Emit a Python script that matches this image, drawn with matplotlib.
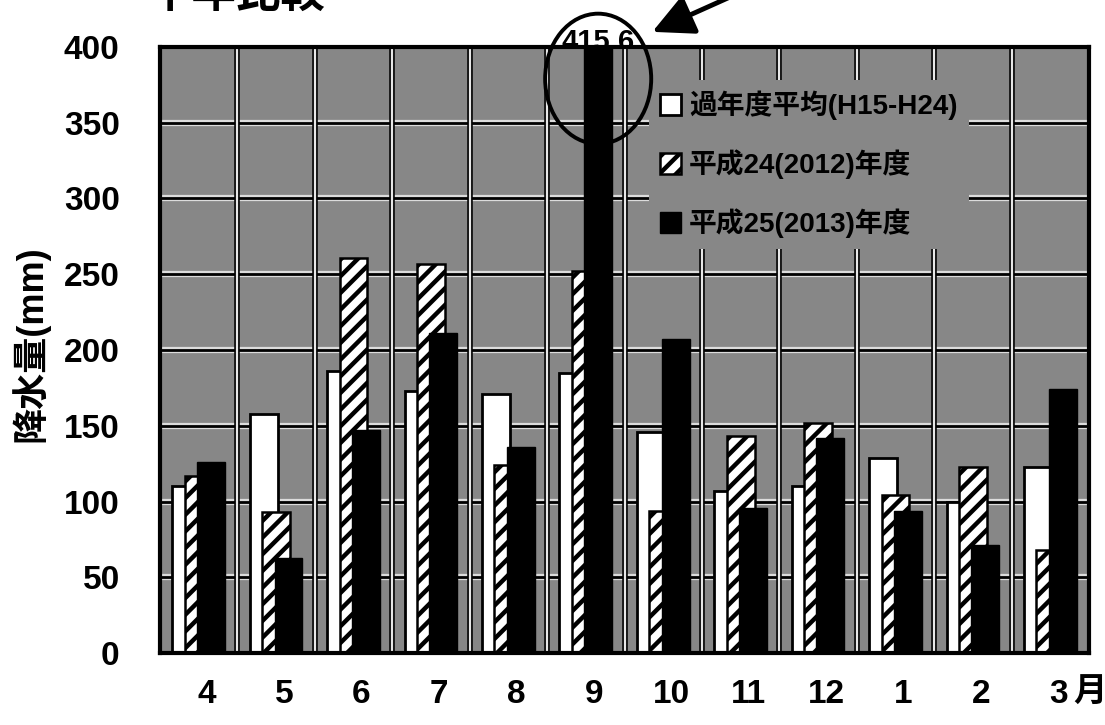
import matplotlib
matplotlib.use('Agg')
import matplotlib.pyplot as plt
import matplotlib.patheffects as pe
from matplotlib.patches import Ellipse
from matplotlib.transforms import ScaledTranslation
import numpy as np

# ---------------- data ----------------
months = ['4', '5', '6', '7', '8', '9', '10', '11', '12', '1', '2', '3']
month_unit = '月'
avg_h15_h24 = [110, 158, 186, 173, 171, 185, 146, 107, 110, 129, 100, 123]
fy2012 = [117, 93, 261, 257, 124, 252, 94, 143, 152, 104, 123, 68]
fy2013 = [126, 63, 147, 211, 136, 415.6, 207, 96, 142, 94, 71, 174]
series_labels = ['過年度平均(H15-H24)', '平成24(2012)年度', '平成25(2013)年度']
y_ticks = [0, 50, 100, 150, 200, 250, 300, 350, 400]
peak_label = '415.6'
y_label = '降水量(mm)'
title = '平年比較'

FAM = ['Liberation Sans', 'Noto Sans CJK JP', 'DejaVu Sans']
plt.rcParams['font.family'] = FAM
plt.rcParams['font.weight'] = 'bold'
plt.rcParams['hatch.linewidth'] = 3.2

BG = '#878787'

fig = plt.figure(figsize=(11.05, 7.25), dpi=100)
ax = fig.add_axes([160 / 1105, 1 - 653 / 725, 929 / 1105, 606 / 725])
ax.set_facecolor(BG)

x = np.arange(len(months))
s = 0.16
w = 0.36
b1 = ax.bar(x - s, avg_h15_h24, w, color='white', edgecolor='black', linewidth=2.0, zorder=2)
b2 = ax.bar(x, fy2012, w, color='white', edgecolor='black', hatch='//', linewidth=1.8, zorder=3)
b3 = ax.bar(x + s, fy2013, w, color='black', edgecolor='black', linewidth=1.0, zorder=4)

ax.set_xlim(-0.5, len(months) - 0.5)
ax.set_ylim(y_ticks[0], y_ticks[-1])

# grid lines
ax.hlines(y_ticks[1:-1], -0.5, len(months) - 0.5, colors='black', linewidth=2.0, zorder=1,
          path_effects=[pe.Stroke(linewidth=4.5, foreground='#dcdcdc'), pe.Normal()])
ax.vlines(np.arange(0.5, len(months) - 0.5, 1), y_ticks[0], y_ticks[-1], colors='#e8e8e8',
          linewidth=1.6, zorder=1,
          path_effects=[pe.Stroke(linewidth=4.0, foreground='black'), pe.Normal()])

for sp in ax.spines.values():
    sp.set_linewidth(3.0)
    sp.set_color('black')
    sp.set_zorder(5)

ax.set_yticks(y_ticks)
ax.set_yticklabels([str(v) for v in y_ticks], fontsize=24, fontweight='bold')
ax.set_xticks(x)
ax.set_xticklabels(months, fontsize=24, fontweight='bold')
ax.tick_params(axis='y', length=0, pad=29)
ax.tick_params(axis='x', length=0, pad=19)
for lbl in ax.get_xticklabels():
    lbl.set_transform(lbl.get_transform() + ScaledTranslation(8 / 100, 0, fig.dpi_scale_trans))

# unit after last month label
ax.annotate(month_unit, xy=(x[-1], 0), xycoords='data', xytext=(23, -40),
            textcoords='offset pixels', ha='left', va='center', fontsize=24,
            fontweight='bold', annotation_clip=False)

# legend
leg = ax.legend([b1, b2, b3], series_labels, loc='upper left',
                bbox_to_anchor=(0.526, 0.946), frameon=True, facecolor=BG,
                edgecolor='none', framealpha=1, fancybox=False,
                prop={'family': FAM, 'weight': 'bold', 'size': 20},
                handlelength=0.75, handleheight=0.75, handletextpad=0.3,
                labelspacing=1.05, borderpad=0.4, borderaxespad=0)
leg.set_zorder(6)

# peak annotation: circle, value label, arrow
peak_i = int(np.argmax(fy2013))
px = x[peak_i] + s
ell = Ellipse((px, 379), 1.37, 86, fill=False, edgecolor='black', linewidth=2.8,
              clip_on=False, zorder=7)
ax.add_patch(ell)
fig.text(px, 403, peak_label, transform=ax.transData, ha='center', va='center',
         fontsize=21, fontweight='bold', zorder=-1)
ax.annotate('', xy=(px + 0.70, 410), xycoords='data', xytext=(78, 35),
            textcoords='offset pixels',
            arrowprops=dict(arrowstyle='-|>,head_length=1.0,head_width=0.5',
                            lw=3.5, color='black', mutation_scale=25,
                            shrinkA=0, shrinkB=0),
            annotation_clip=False, zorder=7)

# y label and partially visible title
fig.text(30 / 1105, 1 - 344 / 725, y_label, rotation=90, ha='center', va='center',
         fontsize=26, fontweight='bold', family=FAM)
fig.text(148 / 1105, 1 - 7 / 725, title, ha='left', va='baseline', fontsize=32,
         fontweight='bold', family=FAM)

fig.savefig('out.png', dpi=100)
